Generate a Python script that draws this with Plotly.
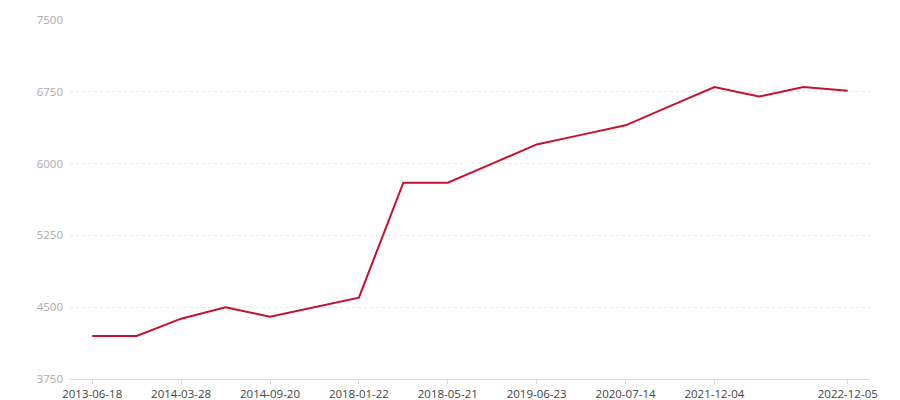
import plotly.graph_objects as go

categories = ["2013-06-18", "2013-11-02", "2014-03-28", "2014-06-15", "2014-09-20",
              "2016-05-10", "2018-01-22", "2018-03-15", "2018-05-21", "2018-12-10",
              "2019-06-23", "2019-12-30", "2020-07-14", "2021-03-20", "2021-12-04",
              "2022-04-18", "2022-08-09", "2022-12-05"]
values = [4200, 4200, 4380, 4500, 4400, 4500, 4600, 5800, 5800, 6000,
          6200, 6300, 6400, 6600, 6800, 6700, 6800, 6760]
tick_labels = ["2013-06-18", "2014-03-28", "2014-09-20", "2018-01-22", "2018-05-21",
               "2019-06-23", "2020-07-14", "2021-12-04", "2022-12-05"]
y_ticks = [3750, 4500, 5250, 6000, 6750, 7500]

fig = go.Figure(go.Scatter(
    x=categories, y=values, mode="lines",
    line=dict(color="#c8102e", width=2),
    hoverinfo="x+y",
))

fig.update_layout(
    width=900, height=400,
    margin=dict(l=62, r=38, t=12, b=29, autoexpand=False),
    paper_bgcolor="white", plot_bgcolor="white",
    font=dict(family="Open Sans, Noto Sans, sans-serif", size=12),
    showlegend=False,
)
fig.update_xaxes(
    type="category", categoryorder="array", categoryarray=categories,
    range=[-0.5, len(categories) - 0.5],
    tickmode="array", tickvals=tick_labels, ticktext=tick_labels,
    showgrid=False, showline=True, linecolor="#d9d9d9", linewidth=1,
    ticks="outside", ticklen=4, tickcolor="#d9d9d9",
    tickfont=dict(color="#444", size=11.5), automargin=False,
)
fig.update_yaxes(
    range=[3750, 7500], tickmode="array", tickvals=y_ticks,
    showgrid=True, gridcolor="#e8e8e8", griddash="dot", gridwidth=1,
    zeroline=False, showline=False,
    tickfont=dict(color="#aaaaaa", size=11.5),
    ticklabelstandoff=6, automargin=False,
)

fig.write_html("out.html")
